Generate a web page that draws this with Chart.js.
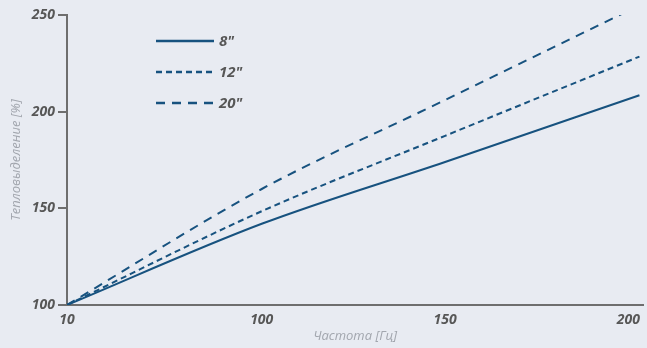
<!DOCTYPE html>
<html>
<head>
<meta charset="utf-8">
<script src="https://cdn.jsdelivr.net/npm/chart.js@4.4.0/dist/chart.umd.min.js"></script>
<style>
  html, body { margin: 0; padding: 0; background: #e8ebf2; }
  #wrap { width: 647px; height: 348px; position: relative; }
</style>
</head>
<body>
<div id="wrap"><canvas id="myChart"></canvas></div>
<script>
// частота [Гц] и тепловыделение [%] по диаметрам
const freq = [10, 100, 150, 203];
const heat8 = [100, 142, 174, 208.5];
const heat12 = [100, 148.5, 187.5, 228.5];
const heat20 = [100, 160, 206, 255];
const seriesNames = ['8"', '12"', '20"'];
const xTicks = [10, 100, 150, 200];
const yTicks = [100, 150, 200, 250];

const lineColor = '#17527f';
const tickColor = '#575757';
const titleColor = '#a2a6ae';
const axisColor = '#6e6e6e';
const tickFont = { family: '"Open Sans"', size: 14, style: 'italic', weight: 'bold' };
const titleFont = { family: '"Open Sans"', size: 13, style: 'italic', weight: 'normal' };

// ось X с изломом: участок 10..100 сжат, 100..200 шире
const xBreakValues = [10, 100, 204];
const xBreakFractions = [0, 0.338, 1];

class BrokenLinearScale extends Chart.LinearScale {
    getPixelForValue(value) {
        if (value === null || value === undefined) return NaN;
        const v = xBreakValues, f = xBreakFractions;
        let i = 0;
        while (i < v.length - 2 && value > v[i + 1]) i++;
        const dec = f[i] + (value - v[i]) / (v[i + 1] - v[i]) * (f[i + 1] - f[i]);
        return this.getPixelForDecimal(dec);
    }
    getValueForPixel(pixel) {
        const dec = this.getDecimalForPixel(pixel);
        const v = xBreakValues, f = xBreakFractions;
        let i = 0;
        while (i < f.length - 2 && dec > f[i + 1]) i++;
        return v[i] + (dec - f[i]) / (f[i + 1] - f[i]) * (v[i + 1] - v[i]);
    }
}
BrokenLinearScale.id = 'brokenLinear';
BrokenLinearScale.defaults = Chart.LinearScale.defaults;
Chart.register(BrokenLinearScale);

const toPoints = (vals) => freq.map((x, i) => ({ x: x, y: vals[i] }));

const data = {
    datasets: [
        { label: seriesNames[0], data: toPoints(heat8), borderColor: lineColor, borderWidth: 2, borderDash: [] },
        { label: seriesNames[1], data: toPoints(heat12), borderColor: lineColor, borderWidth: 2, borderDash: [6, 4] },
        { label: seriesNames[2], data: toPoints(heat20), borderColor: lineColor, borderWidth: 2, borderDash: [9, 7] },
    ]
};

// легенда внутри графика
const insideLegend = {
    id: 'insideLegend',
    afterDraw(chart) {
        const ctx = chart.ctx;
        const left = chart.chartArea.left + 89;
        ctx.save();
        chart.data.datasets.forEach((ds, i) => {
            const y = 41 + i * 31;
            ctx.beginPath();
            ctx.setLineDash(ds.borderDash);
            ctx.lineWidth = 2.5;
            ctx.strokeStyle = ds.borderColor;
            ctx.moveTo(left, y);
            ctx.lineTo(left + 58, y);
            ctx.stroke();
            ctx.setLineDash([]);
            ctx.fillStyle = tickColor;
            ctx.font = 'italic bold 15px "Open Sans"';
            ctx.textBaseline = 'middle';
            ctx.fillText(ds.label, left + 63, y + 1);
        });
        ctx.restore();
    }
};

const config = {
    type: 'line',
    data: data,
    plugins: [insideLegend],
    options: {
        responsive: true,
        maintainAspectRatio: false,
        animation: false,
        elements: { point: { radius: 0 }, line: { cubicInterpolationMode: 'monotone' } },
        layout: { padding: { top: 15, right: 0, left: 0, bottom: 0 } },
        plugins: {
            legend: { display: false },
            tooltip: { enabled: false }
        },
        scales: {
            x: {
                type: 'brokenLinear',
                min: 10,
                max: 204,
                afterBuildTicks: (axis) => { axis.ticks = xTicks.map(v => ({ value: v })); },
                afterFit: (axis) => { axis.height = 43; },
                grid: { display: false, drawTicks: false },
                border: { display: true, color: axisColor, width: 2 },
                ticks: { autoSkip: false, maxRotation: 0, padding: 7, color: tickColor, font: tickFont },
                title: { display: true, text: 'Частота [Гц]', color: titleColor, font: titleFont, padding: { top: 0, bottom: 4 } }
            },
            y: {
                min: 100,
                max: 250,
                afterBuildTicks: (axis) => { axis.ticks = yTicks.map(v => ({ value: v })); },
                afterFit: (axis) => { axis.width = 67; },
                grid: { drawOnChartArea: false, tickLength: 9, color: axisColor, lineWidth: 2 },
                border: { display: true, color: axisColor, width: 2 },
                ticks: { padding: 3, color: tickColor, font: tickFont },
                title: { display: true, text: 'Тепловыделение [%]', color: titleColor, font: titleFont, padding: { top: 8, bottom: 0 } }
            }
        }
    }
};

const myChart = new Chart(document.getElementById('myChart'), config);
</script>
</body>
</html>
